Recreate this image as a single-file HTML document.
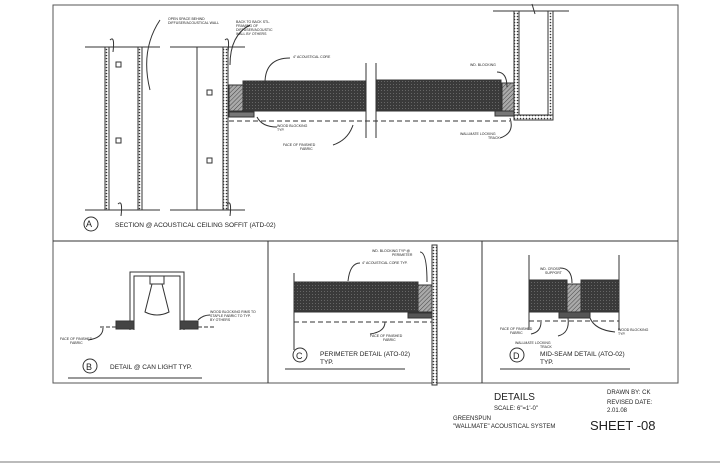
<!DOCTYPE html>
<html><head><style>
body{margin:0;background:#fff}
svg{display:block}
text{font-family:"Liberation Sans",sans-serif;fill:#222}
</style></head><body>
<svg width="720" height="466" viewBox="0 0 720 466" xmlns="http://www.w3.org/2000/svg">
<defs>
<pattern id="dots" width="3" height="3" patternUnits="userSpaceOnUse"><rect width="3" height="3" fill="#fff"/><circle cx="1.5" cy="1.5" r="0.8" fill="#333"/></pattern>
<pattern id="core" width="3" height="3" patternUnits="userSpaceOnUse"><rect width="3" height="3" fill="#3a3a3a"/><rect width="1" height="1" fill="#666"/></pattern>
<pattern id="hatch" width="3" height="3" patternUnits="userSpaceOnUse" patternTransform="rotate(45)"><rect width="3" height="3" fill="#aaa"/><line x1="0" y1="0" x2="0" y2="3" stroke="#444" stroke-width="1"/></pattern>
</defs>
<g stroke="#333" fill="none" stroke-width="1">
<rect x="53" y="5" width="625" height="378" stroke="#555"/>
<line x1="53" y1="241" x2="678" y2="241"/>
<line x1="268" y1="241" x2="268" y2="383"/>
<line x1="482" y1="241" x2="482" y2="383"/>
<line x1="0" y1="462" x2="720" y2="462" stroke="#bbb" stroke-width="2"/>
<line x1="85" y1="47" x2="160" y2="47"/><line x1="85" y1="210" x2="160" y2="210"/>
<line x1="170" y1="47" x2="245" y2="47"/><line x1="170" y1="210" x2="245" y2="210"/>
<rect x="105" y="47" width="4" height="163" fill="url(#dots)"/>
<rect x="138" y="47" width="4" height="163" fill="url(#dots)"/>
<line x1="197" y1="47" x2="197" y2="210"/>
<rect x="223" y="47" width="5" height="163" fill="url(#dots)"/>
<rect x="116" y="62" width="5" height="5"/><rect x="116" y="138" width="5" height="5"/>
<rect x="207" y="90" width="5" height="5"/><rect x="207" y="158" width="5" height="5"/>
<rect x="243" y="81" width="123" height="30" fill="url(#core)"/>
<rect x="376" y="80" width="125" height="31" fill="url(#core)"/>
<rect x="229" y="85" width="14" height="26" fill="url(#hatch)"/>
<rect x="229" y="112" width="25" height="5" fill="#777"/>
<line x1="366" y1="63" x2="366" y2="138"/><line x1="376" y1="63" x2="376" y2="138"/>
<line x1="229" y1="121" x2="510" y2="121" stroke-dasharray="5,3"/>
<rect x="502" y="83" width="12" height="28" fill="url(#hatch)"/>
<rect x="495" y="111" width="19" height="5" fill="#777"/>
<rect x="514" y="11" width="5" height="109" fill="url(#dots)"/>
<rect x="548" y="11" width="5" height="109" fill="url(#dots)"/>
<rect x="514" y="115" width="39" height="5" fill="url(#dots)"/>
<line x1="493" y1="11" x2="569" y2="11"/>
<path d="M110 40 q5 -5 3 12 M225 40 q5 -5 3 12 M227 204 q5-5 3 12 M118 204 q5-5 3 12 M532 4 l3 10" />
<path d="M160 20 q-20 30 -10 70 M250 25 q-20 10 -20 40 M290 58 q-25 0 -25 25 M257 117 q5 10 20 10 M353 125 q-5 15 -20 20 M497 72 q10 0 10 15 M510 118 q5 15 -10 20"/>
<circle cx="91" cy="224" r="7"/>
<path d="M130 330 V272 H184 V330"/><path d="M134 330 V276 H180 V330"/>
<rect x="150" y="276" width="14" height="8"/>
<path d="M152 284 L145 312 Q157 318 169 312 L162 284"/>
<rect x="116" y="321" width="18" height="8" fill="#444"/>
<rect x="180" y="321" width="18" height="8" fill="#444"/>
<line x1="100" y1="327" x2="116" y2="327" stroke-dasharray="4,2"/><line x1="198" y1="327" x2="215" y2="327" stroke-dasharray="4,2"/>
<path d="M103 328 q0 10 -15 12 M198 320 q5 -5 12 -5"/>
<circle cx="90" cy="366" r="7"/>
<line x1="68" y1="378" x2="202" y2="378"/>
<line x1="294" y1="273" x2="294" y2="350"/>
<rect x="294" y="282" width="124" height="30" fill="url(#core)"/>
<rect x="418" y="285" width="14" height="27" fill="url(#hatch)"/>
<rect x="408" y="313" width="24" height="5" fill="#555"/>
<rect x="432" y="245" width="5" height="140" fill="url(#dots)"/>
<line x1="294" y1="322" x2="432" y2="322" stroke-dasharray="5,3"/>
<path d="M360 263 q-10 0 -12 18 M420 252 q7 0 7 30 M385 322 q0 10 -15 12"/>
<circle cx="300" cy="355" r="7"/>
<line x1="285" y1="369" x2="405" y2="369"/>
<line x1="529" y1="255" x2="529" y2="330"/><line x1="619" y1="255" x2="619" y2="330"/>
<rect x="529" y="280" width="38" height="32" fill="url(#core)"/>
<rect x="567" y="284" width="14" height="28" fill="url(#hatch)"/>
<rect x="581" y="280" width="38" height="32" fill="url(#core)"/>
<rect x="559" y="312" width="31" height="6" fill="#555"/>
<line x1="529" y1="321" x2="619" y2="321" stroke-dasharray="5,3"/>
<path d="M560 268 q12 0 12 15 M590 318 q5 12 25 14 M568 318 q2 15 -10 18 M541 322 q0 10 -10 12"/>
<circle cx="517" cy="355" r="7"/>
<line x1="500" y1="369" x2="630" y2="369"/>
</g>
<g font-size="3.5">
<text x="168" y="20">OPEN SPACE BEHIND</text><text x="168" y="24">DIFFUSER/ACOUSTICAL WALL</text>
<text x="236" y="23">BACK TO BACK STL.</text><text x="236" y="27">FRAMING OF</text><text x="236" y="31">DIFFUSER/ACOUSTIC</text><text x="236" y="35">WALL BY OTHERS</text>
<text x="293" y="58">4" ACOUSTICAL CORE</text>
<text x="277" y="127">WOOD BLOCKING</text><text x="277" y="131">TYP.</text>
<text x="283" y="146">FACE OF FINISHED</text><text x="300" y="150">FABRIC</text>
<text x="470" y="66">WD. BLOCKING</text>
<text x="460" y="135">WALLMATE LOCKING</text><text x="488" y="139">TRACK</text>
<text x="210" y="313">WOOD BLOCKING RIMS TO</text><text x="210" y="317">STAPLE FABRIC TO TYP.</text><text x="210" y="321">BY OTHERS</text>
<text x="60" y="340">FACE OF FINISHED</text><text x="70" y="344">FABRIC</text>
<text x="372" y="252">WD. BLOCKING TYP @</text><text x="392" y="256">PERIMETER</text>
<text x="362" y="264">4" ACOUSTICAL CORE TYP.</text>
<text x="370" y="337">FACE OF FINISHED</text><text x="383" y="341">FABRIC</text>
<text x="540" y="270">WD. CROSS</text><text x="545" y="274">SUPPORT</text>
<text x="500" y="330">FACE OF FINISHED</text><text x="510" y="334">FABRIC</text>
<text x="515" y="344">WALLMATE LOCKING</text><text x="540" y="348">TRACK</text>
<text x="618" y="331">WOOD BLOCKING</text><text x="618" y="335">TYP.</text>
</g>
<g font-size="6.5">
<text x="86" y="227" font-size="9">A</text>
<text x="115" y="227">SECTION @ ACOUSTICAL CEILING SOFFIT  (ATD-02)</text>
<text x="86" y="370" font-size="9">B</text>
<text x="110" y="369">DETAIL @ CAN LIGHT TYP.</text>
<text x="296" y="359" font-size="9">C</text>
<text x="320" y="356">PERIMETER DETAIL (ATO-02)</text><text x="320" y="364">TYP.</text>
<text x="513" y="359" font-size="9">D</text>
<text x="540" y="356">MID-SEAM DETAIL (ATO-02)</text><text x="540" y="364">TYP.</text>
<text x="494" y="400" font-size="10">DETAILS</text>
<text x="494" y="410" font-size="6">SCALE: 6"=1'-0"</text>
<text x="453" y="420" font-size="6">GREENSPUN</text>
<text x="453" y="428" font-size="6">"WALLMATE" ACOUSTICAL SYSTEM</text>
<text x="607" y="394" font-size="6">DRAWN BY: CK</text>
<text x="607" y="404" font-size="6">REVISED DATE:</text>
<text x="607" y="412" font-size="6">2.01.08</text>
<text x="590" y="430" font-size="13">SHEET -08</text>
</g>
</svg>
</body></html>
